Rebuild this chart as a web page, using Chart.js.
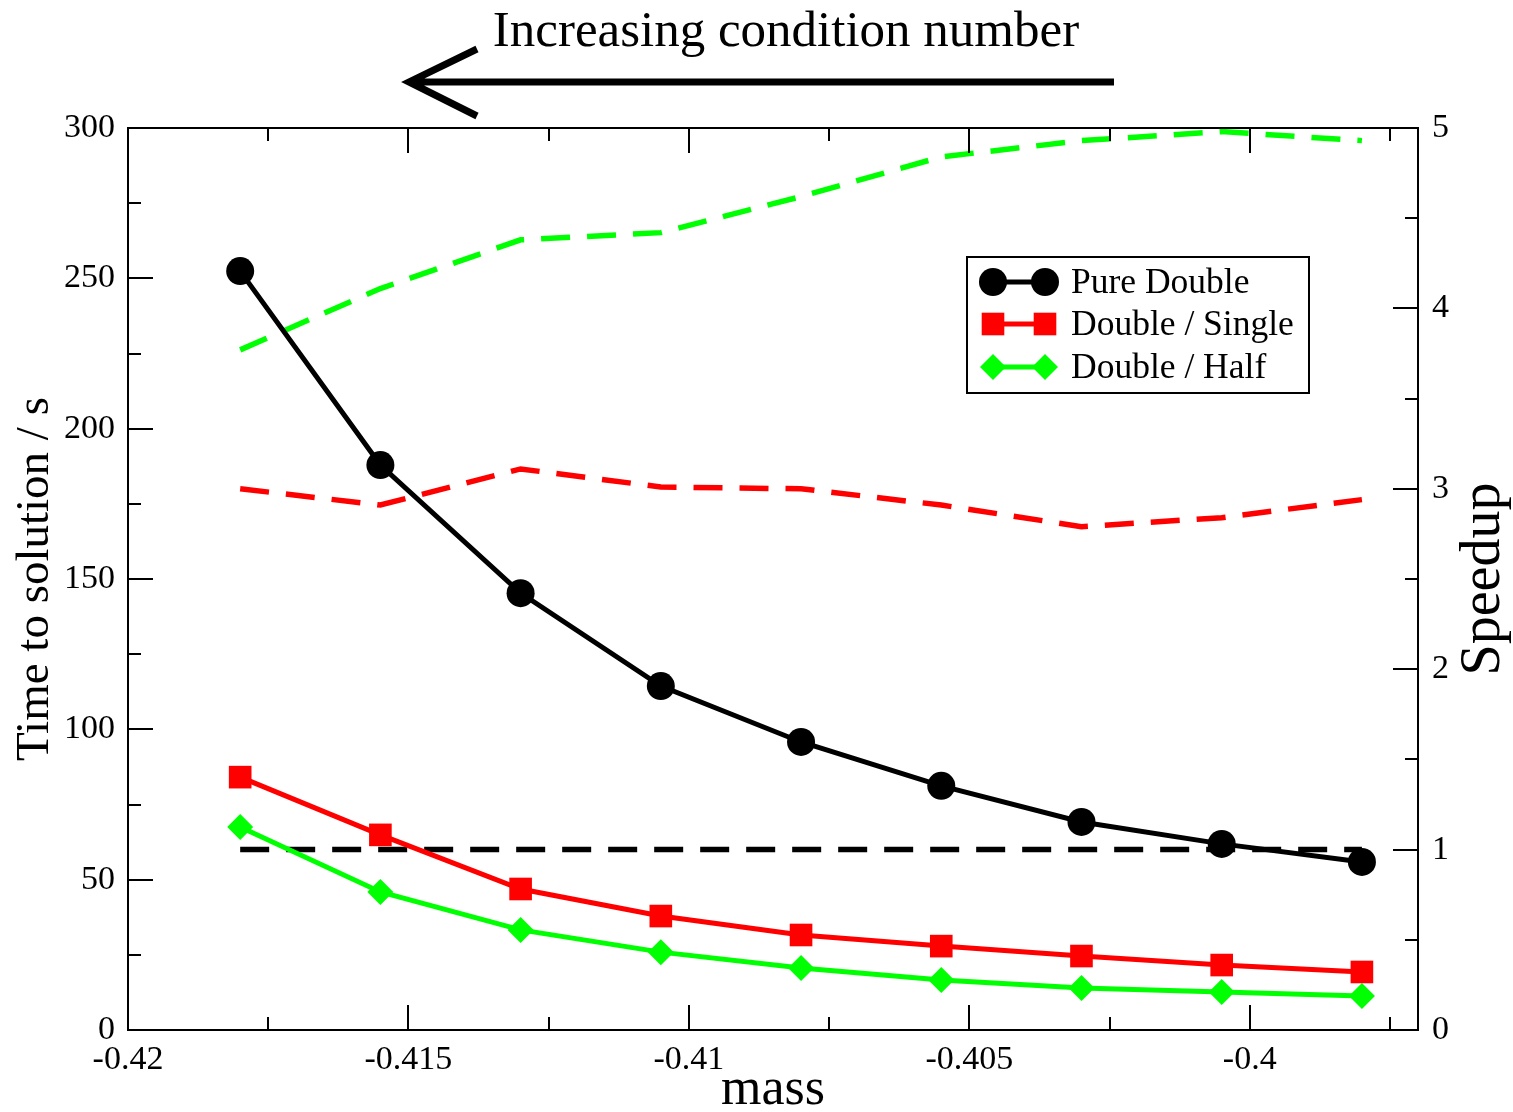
<!DOCTYPE html>
<html>
<head>
<meta charset="utf-8">
<script src="https://cdn.jsdelivr.net/npm/chart.js@4.4.0/dist/chart.umd.min.js"></script>
<style>
  html, body { margin: 0; padding: 0; background: #fff; }
</style>
</head>
<body>
<canvas id="chart" width="1513" height="1112"></canvas>
<script>
// values
const mass = [-0.418, -0.4155, -0.413, -0.4105, -0.408, -0.4055, -0.403, -0.4005, -0.398];
const pureDouble = [252.4, 187.9, 145.3, 114.4, 95.8, 81.2, 69.2, 61.9, 55.9];
const doubleSingle = [84.1, 64.9, 46.9, 37.9, 31.6, 27.9, 24.6, 21.6, 19.3];
const doubleHalf = [67.5, 45.9, 33.3, 25.9, 20.6, 16.6, 14.0, 12.6, 11.3];
const speedupDouble = [1, 1, 1, 1, 1, 1, 1, 1, 1];
const speedupSingle = [3.00, 2.91, 3.11, 3.01, 3.00, 2.91, 2.79, 2.84, 2.94];
const speedupHalf = [3.77, 4.11, 4.38, 4.42, 4.62, 4.84, 4.93, 4.98, 4.93];

const xTicks = [-0.42, -0.415, -0.41, -0.405, -0.4];
const xMinor = [-0.4175, -0.4125, -0.4075, -0.4025, -0.3975];
const timeTicks = [0, 50, 100, 150, 200, 250, 300];
const timeMinor = [25, 75, 125, 175, 225, 275];
const speedTicks = [0, 1, 2, 3, 4, 5];
const speedMinor = [0.5, 1.5, 2.5, 3.5, 4.5];

const serif = "'Liberation Serif', 'Times New Roman', serif";
const BLACK = '#000000', RED = '#ff0000', GREEN = '#00ff00';

const pts = arr => mass.map((x, i) => ({ x, y: arr[i] }));

function solid(label, arr, color, style, r) {
  return {
    label, data: pts(arr), yAxisID: 'y',
    borderColor: color, backgroundColor: color,
    pointBackgroundColor: color, pointBorderWidth: 0,
    pointStyle: style, pointRadius: r, borderWidth: 5,
    tension: 0, fill: false
  };
}
function dashed(arr, color) {
  return {
    label: '', data: pts(arr), yAxisID: 'y2',
    borderColor: color, borderWidth: 5.5, borderDash: [29, 17],
    pointRadius: 0, tension: 0, fill: false
  };
}

// inward ticks on all sides + frame
const frameTicks = {
  id: 'frameTicks',
  afterDatasetsDraw(chart) {
    const { ctx, chartArea: a, scales } = chart;
    ctx.save();
    ctx.strokeStyle = BLACK;
    ctx.lineWidth = 2;
    ctx.beginPath();
    const xt = (vals, len) => vals.forEach(v => {
      const px = Math.round(scales.x.getPixelForValue(v));
      ctx.moveTo(px, a.bottom); ctx.lineTo(px, a.bottom - len);
      ctx.moveTo(px, a.top); ctx.lineTo(px, a.top + len);
    });
    const yt = (scale, vals, len, left) => vals.forEach(v => {
      const py = Math.round(scale.getPixelForValue(v));
      if (left) { ctx.moveTo(a.left, py); ctx.lineTo(a.left + len, py); }
      else { ctx.moveTo(a.right, py); ctx.lineTo(a.right - len, py); }
    });
    xt(xTicks, 25); xt(xMinor, 13);
    yt(scales.y, timeTicks, 25, true); yt(scales.y, timeMinor, 13, true);
    yt(scales.y2, speedTicks, 25, false); yt(scales.y2, speedMinor, 13, false);
    ctx.stroke();
    ctx.strokeRect(a.left, a.top, a.right - a.left, a.bottom - a.top);
    ctx.restore();
  },
  afterDraw(chart) {
    const { ctx } = chart;
    ctx.save();
    // heading + arrow
    ctx.fillStyle = BLACK;
    ctx.font = `51px ${serif}`;
    ctx.textAlign = 'center';
    ctx.textBaseline = 'alphabetic';
    ctx.fillText('Increasing condition number', 786, 46);
    ctx.strokeStyle = BLACK;
    ctx.lineWidth = 7;
    ctx.beginPath();
    ctx.moveTo(1114, 82); ctx.lineTo(412, 82);
    ctx.moveTo(477, 49); ctx.lineTo(409, 82); ctx.lineTo(477, 116);
    ctx.stroke();

    // right axis title, reads bottom to top
    ctx.save();
    ctx.translate(1484, 579);
    ctx.rotate(-Math.PI / 2);
    ctx.font = `56px ${serif}`;
    ctx.textBaseline = 'middle';
    ctx.fillText('Speedup', 0, 0);
    ctx.restore();

    // legend
    const bx = 967, by = 257, bw = 342, bh = 136;
    ctx.fillStyle = '#fff';
    ctx.fillRect(bx, by, bw, bh);
    ctx.lineWidth = 2;
    ctx.strokeRect(bx, by, bw, bh);
    const rows = [282, 324, 367];
    chart.data.datasets.filter(d => d.label).forEach((d, i) => {
      const y = rows[i];
      ctx.strokeStyle = d.borderColor;
      ctx.fillStyle = d.borderColor;
      ctx.lineWidth = 5;
      ctx.beginPath();
      ctx.moveTo(993, y); ctx.lineTo(1045, y);
      ctx.stroke();
      [993, 1045].forEach(x => {
        ctx.beginPath();
        const r = d.pointRadius;
        if (d.pointStyle === 'circle') ctx.arc(x, y, r, 0, Math.PI * 2);
        else if (d.pointStyle === 'rect') { const s = r * Math.SQRT1_2; ctx.rect(x - s, y - s, 2 * s, 2 * s); }
        else { ctx.moveTo(x - r, y); ctx.lineTo(x, y - r); ctx.lineTo(x + r, y); ctx.lineTo(x, y + r); ctx.closePath(); }
        ctx.fill();
      });
      ctx.fillStyle = BLACK;
      ctx.font = `35.5px ${serif}`;
      ctx.textAlign = 'left';
      ctx.textBaseline = 'middle';
      ctx.fillText(d.label, 1071, y + 2);
    });
    ctx.restore();
  }
};

const tickFont = { family: serif, size: 34 };

new Chart(document.getElementById('chart'), {
  type: 'line',
  data: {
    datasets: [
      solid('Pure Double', pureDouble, BLACK, 'circle', 14),
      solid('Double / Single', doubleSingle, RED, 'rect', 16),
      solid('Double / Half', doubleHalf, GREEN, 'rectRot', 13),
      dashed(speedupDouble, BLACK),
      dashed(speedupSingle, RED),
      dashed(speedupHalf, GREEN)
    ]
  },
  options: {
    responsive: false,
    animation: false,
    devicePixelRatio: 1,
    layout: { padding: { top: 128, left: 0, right: 0, bottom: 0 } },
    plugins: { legend: { display: false }, tooltip: { enabled: false } },
    scales: {
      x: {
        type: 'linear', position: 'bottom', min: -0.42, max: -0.397,
        afterBuildTicks: s => { s.ticks = xTicks.map(v => ({ value: v })); },
        afterFit: s => { s.height = 82; },
        grid: { display: false, drawTicks: false },
        border: { display: false },
        ticks: { font: tickFont, color: BLACK, padding: 10, maxRotation: 0, autoSkip: false,
                 callback: v => String(v) },
        title: { display: true, text: 'mass', color: BLACK,
                 font: { family: serif, size: 52, lineHeight: 0.85 }, padding: 0 }
      },
      y: {
        position: 'left', min: 0, max: 300,
        afterBuildTicks: s => { s.ticks = timeTicks.map(v => ({ value: v })); },
        afterFit: s => { s.width = 128; },
        grid: { display: false, drawTicks: false },
        border: { display: false },
        ticks: { font: tickFont, color: BLACK, padding: 13 },
        title: { display: true, text: 'Time to solution / s', color: BLACK,
                 font: { family: serif, size: 47, lineHeight: 1 }, padding: { top: 12, bottom: 0 } }
      },
      y2: {
        position: 'right', min: 0, max: 5,
        afterBuildTicks: s => { s.ticks = speedTicks.map(v => ({ value: v })); },
        afterFit: s => { s.width = 95; },
        grid: { display: false, drawTicks: false },
        border: { display: false },
        ticks: { font: tickFont, color: BLACK, padding: 14 }
      }
    }
  },
  plugins: [frameTicks]
});
</script>
</body>
</html>
